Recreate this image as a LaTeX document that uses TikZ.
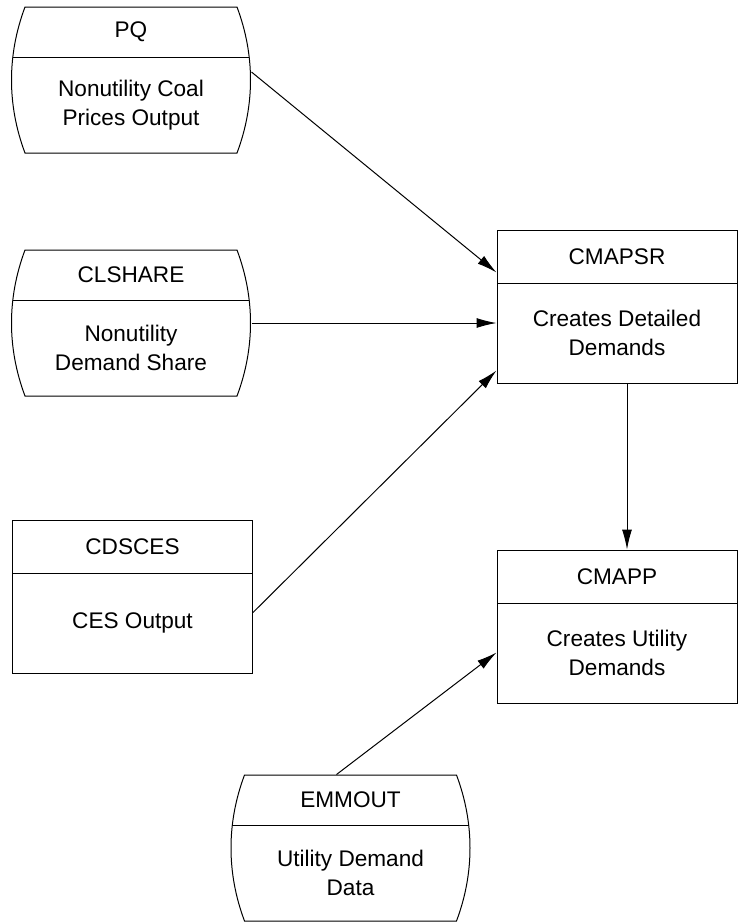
\documentclass[tikz,border=0pt]{standalone}
\usepackage{fontspec}
\setmainfont{Liberation Sans}
\usetikzlibrary{arrows.meta}

\tikzset{
  every node/.style={font=\fontsize{11.3}{14.8}\selectfont, align=center},
  procbox/.style={draw, rectangle, minimum width=120pt, minimum height=76.5pt, inner sep=0pt, line width=0.5pt},
  storebox/.style={rectangle, minimum width=120pt, minimum height=73pt, inner sep=0pt},
  flow/.style={-{Latex[length=10pt,width=5pt]}, line width=0.5pt},
}

\begin{document}
\begin{tikzpicture}[x=0.5pt,y=-0.5pt,line width=0.5pt]
	\useasboundingbox (0,0) rectangle (743,922);
	% input files
	\foreach \n/\cx/\ty/\head/\body in {pq/131/7/PQ/{Nonutility Coal\\Prices Output},
		clshare/131/250/CLSHARE/{Nonutility\\Demand Share},
		emmout/350.5/775/EMMOUT/{Utility Demand\\Data}}{
		\node [storebox] (\n) at (\cx,\ty+73) {};
		\draw (\cx-106,\ty) -- (\cx+106,\ty)
		.. controls (\cx+124,\ty+48) and (\cx+124,\ty+98) .. (\cx+106,\ty+146)
		-- (\cx-106,\ty+146)
		.. controls (\cx-124,\ty+98) and (\cx-124,\ty+48) .. cycle;
		\draw (\cx-118,\ty+50) -- (\cx+118,\ty+50);
		\node (\n-head) at (\cx,\ty+25) {\head};
		\node (\n-body) at (\cx,\ty+98) {\body};
	}
	% routines
	\foreach \n/\cx/\ty/\head/\body in {cdsces/132.5/520/CDSCES/{CES Output},
		cmapsr/617/230/CMAPSR/{Creates Detailed\\Demands},
		cmapp/617/550/CMAPP/{Creates Utility\\Demands}}{
		\node [procbox] (\n) at (\cx,\ty+76.5) {};
		\draw (\cx-120,\ty+53) -- (\cx+120,\ty+53);
		\node (\n-head) at (\cx,\ty+26.5) {\head};
		\node (\n-body) at (\cx,\ty+103) {\body};
	}
	\draw [flow] ([yshift=4pt]pq.east) -- ([yshift=17pt]cmapsr.west);
	\draw [flow] (clshare.east) -- (clshare.east -| cmapsr.west);
	\draw [flow] ([yshift=-8pt]cdsces.east) -- ([yshift=-32pt]cmapsr.west);
	\draw [flow] ([xshift=5pt]cmapsr.south) -- ([xshift=5pt]cmapp.north);
	\draw [flow] ([xshift=-7pt]emmout.north) -- ([yshift=-13pt]cmapp.west);
\end{tikzpicture}
\end{document}
